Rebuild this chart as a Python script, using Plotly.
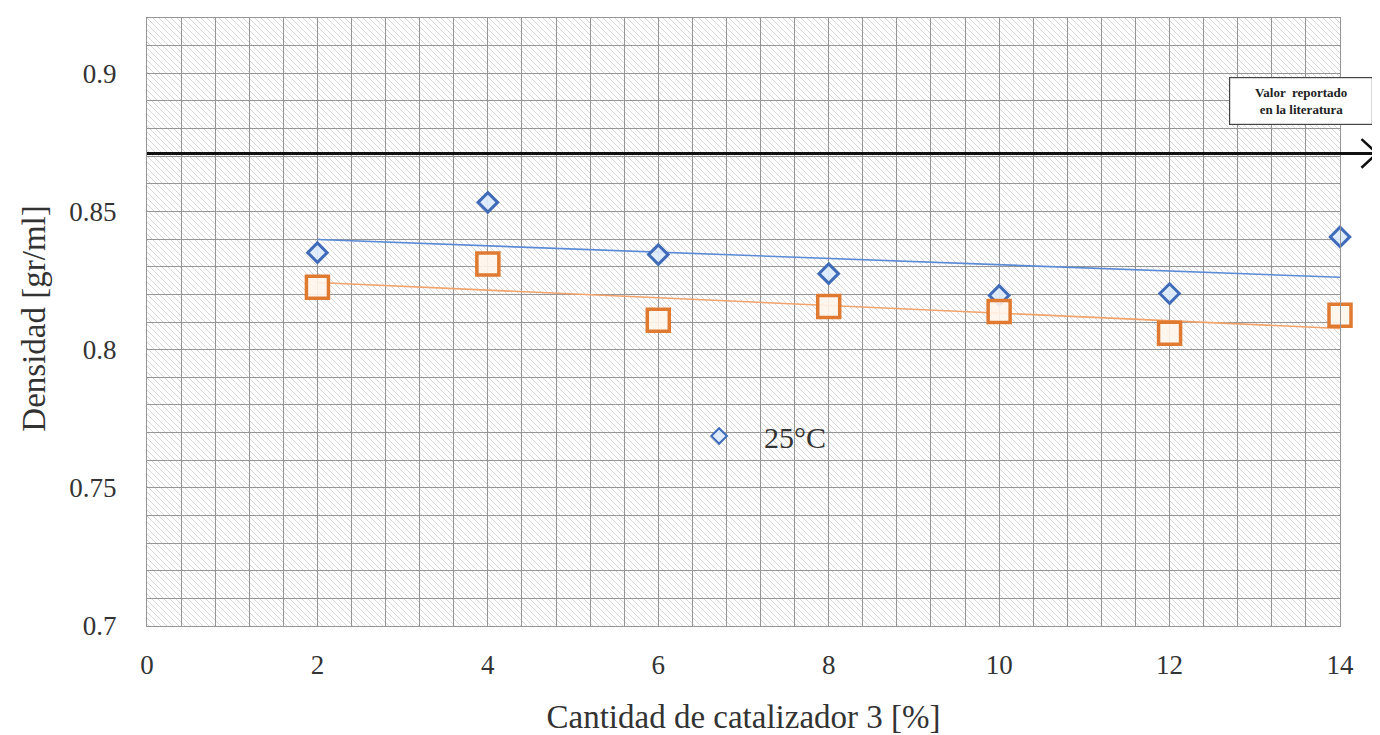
"""Densidad vs cantidad de catalizador 3, con valor de literatura."""
import base64
import numpy as np
import plotly.graph_objects as go

# --- data ---
catalizador = [2, 4, 6, 8, 10, 12, 14]
dens_25c = [0.8351, 0.8533, 0.8344, 0.8275, 0.8196, 0.8203, 0.8408]
dens_serie2 = [0.8226, 0.8310, 0.8106, 0.8156, 0.8138, 0.8059, 0.8124]
valor_literatura = 0.871

x_ticks = [0, 2, 4, 6, 8, 10, 12, 14]
y_ticks = [0.7, 0.75, 0.8, 0.85, 0.9]
y_ticktext = ["0.7", "0.75", "0.8", "0.85", "0.9"]

BLUE = "#3F6BB8"
ORANGE = "#E07A30"
GRID = "#959595"
FONT = "Liberation Serif"
TXT = "#333333"

# linear trendlines (like the spreadsheet ones)
xs = np.array(catalizador, dtype=float)
fit_b = np.polyfit(xs, dens_25c, 1)
fit_o = np.polyfit(xs, dens_serie2, 1)
x_fit = np.array([xs.min(), xs.max()])

fig = go.Figure()
fig.add_trace(go.Scatter(x=x_fit, y=np.polyval(fit_b, x_fit), mode="lines",
                         line=dict(color="#5B8BD6", width=1.6), showlegend=False,
                         hoverinfo="skip"))
fig.add_trace(go.Scatter(x=x_fit, y=np.polyval(fit_o, x_fit), mode="lines",
                         line=dict(color="#F2A36B", width=1.6), showlegend=False,
                         hoverinfo="skip"))
fig.add_trace(go.Scatter(x=catalizador, y=dens_25c, mode="markers",
                         name="\u00a0\u00a025°C", cliponaxis=False,
                         marker=dict(symbol="diamond", size=15, color="rgba(220,235,255,0.9)",
                                     line=dict(color=BLUE, width=3))))
fig.add_trace(go.Scatter(x=catalizador, y=dens_serie2, mode="markers", name="serie 2",
                         cliponaxis=False,
                         marker=dict(symbol="square", size=22, color="rgba(255,245,235,0.9)",
                                     line=dict(color=ORANGE, width=3.5)),
                         showlegend=False))

# hatched background of the plot area
svg = ('<svg xmlns="http://www.w3.org/2000/svg" width="1193" height="608">'
       '<defs><pattern id="h" width="6" height="6" patternUnits="userSpaceOnUse">'
       '<path d="M-1,-1 L7,7" stroke="#d6d6d6" stroke-width="1"/></pattern></defs>'
       '<rect width="100%" height="100%" fill="url(#h)"/></svg>')
svg_uri = "data:image/svg+xml;base64," + base64.b64encode(svg.encode()).decode()
fig.add_layout_image(source=svg_uri, xref="paper", yref="paper", x=0, y=1,
                     sizex=1, sizey=1, xanchor="left", yanchor="top",
                     sizing="stretch", layer="below")

# literature value line with open arrow head
fig.add_shape(type="line", xref="paper", yref="y", x0=0, x1=1.031,
              y0=valor_literatura, y1=valor_literatura,
              line=dict(color="#111111", width=3), layer="above")
fig.add_shape(type="path", xref="paper", yref="y",
              path=(f"M 1.018,{valor_literatura + 0.0052} L 1.031,{valor_literatura} "
                    f"L 1.018,{valor_literatura - 0.0052}"),
              line=dict(color="#111111", width=2.5), layer="above")
fig.add_annotation(xref="paper", yref="paper", x=0.9673, y=0.8635,
                   xanchor="center", yanchor="middle",
                   text="<b>Valor  reportado<br>en la literatura</b>", showarrow=False,
                   font=dict(family=FONT, size=13, color="#222222"), align="center",
                   bgcolor="white", bordercolor="#444444", borderwidth=1.2,
                   width=140, height=44, borderpad=1)

# y axis title placed by hand (needs to sit closer to the edge than standoff allows)
fig.add_annotation(xref="paper", yref="paper", x=-0.095, y=0.505,
                   xanchor="center", yanchor="middle", textangle=-90,
                   text="Densidad [gr/ml]", showarrow=False,
                   font=dict(family=FONT, size=33, color=TXT))

axis_common = dict(showgrid=True, gridcolor=GRID, gridwidth=1.2, zeroline=False,
                   showline=True, mirror=True, linecolor=GRID, linewidth=1.2,
                   ticks="outside", tickcolor="rgba(0,0,0,0)", automargin=False,
                   tickfont=dict(family=FONT, size=27, color=TXT))

fig.update_layout(
    width=1372, height=727,
    margin=dict(l=139, r=40, t=10, b=109),
    paper_bgcolor="white", plot_bgcolor="white",
    font=dict(family=FONT, color=TXT),
    xaxis=dict(range=[0, 14], tickmode="array", tickvals=x_ticks, ticklen=14,
               minor=dict(dtick=0.4, tick0=0, showgrid=True, gridcolor=GRID, gridwidth=1.2),
               title=dict(text="Cantidad de catalizador 3 [%]",
                          font=dict(family=FONT, size=33, color=TXT), standoff=27),
               **axis_common),
    yaxis=dict(range=[0.7, 0.92], tickmode="array", tickvals=y_ticks, ticktext=y_ticktext,
               ticklen=24,
               minor=dict(dtick=0.01, tick0=0.7, showgrid=True, gridcolor=GRID, gridwidth=1.2),
               **axis_common),
    legend=dict(x=0.4544, y=0.3125, xanchor="left", yanchor="middle",
                bgcolor="rgba(0,0,0,0)", itemsizing="constant", itemwidth=50,
                font=dict(family=FONT, size=30, color=TXT)),
    showlegend=True,
)

fig.write_html("out.html")
